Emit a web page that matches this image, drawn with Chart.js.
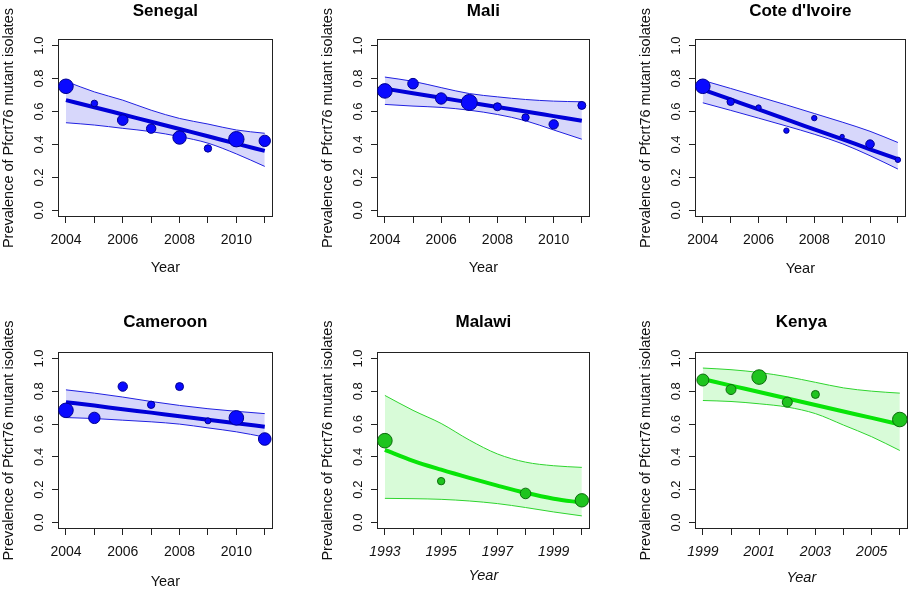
<!DOCTYPE html>
<html>
<head>
<meta charset="utf-8">
<title>Prevalence of Pfcrt76 mutant isolates</title>
<script src="https://cdn.jsdelivr.net/npm/chart.js@4.4.1/dist/chart.umd.min.js"></script>
<style>
  body { margin: 0; background: #fff; }
  #wrap { position: relative; width: 914px; height: 590px; overflow: hidden; }
  #wrap canvas { position: absolute; }
</style>
</head>
<body>
<div id="wrap">
  <canvas id="senegal" width="281" height="290" style="left:0px;top:0px"></canvas>
  <canvas id="mali" width="279" height="290" style="left:319px;top:0px"></canvas>
  <canvas id="cote" width="277" height="290" style="left:637px;top:0px"></canvas>
  <canvas id="cameroon" width="281" height="300" style="left:0px;top:295px"></canvas>
  <canvas id="malawi" width="279" height="300" style="left:319px;top:295px"></canvas>
  <canvas id="kenya" width="279" height="300" style="left:637px;top:295px"></canvas>
</div>
<script>
// years on the x axes
var westYears = [2004, 2005, 2006, 2007, 2008, 2009, 2010, 2011];
var westYearLabels = [2004, 2006, 2008, 2010];
var malawiYears = [1993, 1994, 1995, 1996, 1997, 1998, 1999, 2000];
var malawiYearLabels = [1993, 1995, 1997, 1999];
var malawiObsYears = [1993, 1995, 1998, 2000];
var kenyaYears = [1999, 2000, 2001, 2002, 2003, 2004, 2005, 2006];
var kenyaYearLabels = [1999, 2001, 2003, 2005];
var kenyaObsYears = [1999, 2000, 2001, 2002, 2003, 2006];
var yTicks = [0, 0.2, 0.4, 0.6, 0.8, 1.0];

// observed prevalence + relative sample size (marker size), fitted trend, 95% band
var senegalObs = [0.753, 0.649, 0.548, 0.496, 0.442, 0.376, 0.432, 0.422];
var senegalN   = [7.3, 3.3, 5.3, 4.7, 6.7, 3.7, 7.7, 5.7];
var senegalFit = [0.669, 0.626, 0.582, 0.538, 0.494, 0.450, 0.405, 0.361];
var senegalHi  = [0.783, 0.719, 0.669, 0.608, 0.558, 0.524, 0.488, 0.468];
var senegalLo  = [0.532, 0.518, 0.498, 0.478, 0.448, 0.408, 0.343, 0.267];

var maliObs = [0.725, 0.769, 0.679, 0.655, 0.629, 0.564, 0.522, 0.637];
var maliN   = [7.3, 5.3, 5.7, 8.0, 4.0, 3.7, 4.7, 4.0];
var maliFit = [0.739, 0.711, 0.683, 0.655, 0.627, 0.600, 0.572, 0.544];
var maliHi  = [0.809, 0.783, 0.745, 0.709, 0.689, 0.673, 0.663, 0.659];
var maliLo  = [0.643, 0.633, 0.625, 0.608, 0.582, 0.544, 0.488, 0.432];

var coteObs = [0.753, 0.659, 0.624, 0.484, 0.560, 0.448, 0.402, 0.307];
var coteN   = [7.3, 3.7, 2.7, 2.7, 2.7, 2.2, 4.3, 2.7];
var coteFit = [0.733, 0.673, 0.613, 0.552, 0.492, 0.432, 0.371, 0.311];
var coteHi  = [0.789, 0.740, 0.690, 0.640, 0.588, 0.536, 0.480, 0.412];
var coteLo  = [0.653, 0.607, 0.560, 0.512, 0.462, 0.405, 0.332, 0.251];

var cameroonObs = [0.684, 0.638, 0.829, 0.718, 0.829, 0.620, 0.638, 0.509];
var cameroonN   = [7.3, 5.7, 4.7, 3.7, 4.0, 3.0, 7.3, 6.3];
var cameroonFit = [0.734, 0.713, 0.691, 0.670, 0.648, 0.627, 0.605, 0.584];
var cameroonHi  = [0.809, 0.789, 0.765, 0.738, 0.714, 0.694, 0.678, 0.664];
var cameroonLo  = [0.640, 0.634, 0.624, 0.614, 0.600, 0.577, 0.553, 0.521];

var malawiObs = [0.499, 0.252, 0.177, 0.135];
var malawiN   = [7.3, 3.7, 5.3, 6.7];
var malawiFit = [0.443, 0.376, 0.322, 0.272, 0.225, 0.181, 0.145, 0.121];
var malawiHi  = [0.775, 0.684, 0.604, 0.503, 0.418, 0.368, 0.346, 0.336];
var malawiLo  = [0.147, 0.145, 0.141, 0.131, 0.115, 0.091, 0.064, 0.040];

var kenyaObs = [0.869, 0.811, 0.887, 0.734, 0.781, 0.628];
var kenyaN   = [6.0, 5.0, 7.3, 5.0, 4.0, 7.3];
var kenyaFit = [0.875, 0.835, 0.796, 0.756, 0.717, 0.677, 0.638, 0.598];
var kenyaHi  = [0.942, 0.932, 0.915, 0.889, 0.855, 0.821, 0.801, 0.789];
var kenyaLo  = [0.744, 0.738, 0.724, 0.704, 0.664, 0.594, 0.523, 0.439];

Chart.defaults.font.family = '"Liberation Sans", Arial, sans-serif';
Chart.defaults.color = '#111';
Chart.defaults.animation = false;

var BLUE = { pt: '#0a0aff', edge: '#00008f', fit: '#0000d8', band: '#2020e0', fill: 'rgba(40,40,235,0.19)' };
var GREEN = { pt: '#1ec41e', edge: '#0c6a0c', fit: '#08e408', band: '#2ed42e', fill: 'rgba(60,235,60,0.2)' };

// R style box round the plot region
var boxPlugin = {
  id: 'box',
  beforeDatasetsDraw: function (chart) {
    var a = chart.chartArea, ctx = chart.ctx;
    ctx.save();
    ctx.strokeStyle = '#222';
    ctx.lineWidth = 1;
    ctx.strokeRect(Math.round(a.left) + 0.5, Math.round(a.top) + 0.5,
      Math.round(a.right - a.left) - 1, Math.round(a.bottom - a.top) - 1);
    ctx.restore();
  }
};

function makePanel(id, p) {
  var topRow = p.row === 0;
  var H = topRow ? 290 : 300;
  var plotBottom = topRow ? 217 : 234;
  var c = p.green ? GREEN : BLUE;
  var fstyle = p.italic ? 'italic' : 'normal';

  function curve(arr) {
    return p.years.map(function (yr, i) { return { x: yr, y: arr[i] }; });
  }
  var pts = p.obsYears.map(function (yr, i) { return { x: yr, y: p.obs[i] }; });

  new Chart(document.getElementById(id), {
    type: 'line',
    data: {
      datasets: [
        { data: curve(p.hi), borderColor: c.band, borderWidth: 1, backgroundColor: c.fill,
          fill: 1, pointRadius: 0, order: 3, cubicInterpolationMode: 'monotone' },
        { data: curve(p.lo), borderColor: c.band, borderWidth: 1, fill: false,
          pointRadius: 0, order: 2, cubicInterpolationMode: 'monotone' },
        { data: curve(p.fit), borderColor: c.fit, borderWidth: 4, fill: false,
          pointRadius: 0, order: 1, cubicInterpolationMode: 'monotone' },
        { data: pts, showLine: false, fill: false, pointRadius: p.n, pointBackgroundColor: c.pt,
          pointBorderColor: c.edge, pointBorderWidth: 1, order: 0, clip: false }
      ]
    },
    options: {
      responsive: false,
      events: [],
      layout: { padding: { left: 0, right: 8, top: 0, bottom: 0 } },
      plugins: {
        legend: { display: false },
        tooltip: { enabled: false },
        title: {
          display: true, text: p.title, fullSize: false, color: '#000',
          font: { size: 17, weight: 'bold' },
          padding: topRow ? { top: 1, bottom: 17.6 } : { top: 16.8, bottom: 19.8 }
        }
      },
      scales: {
        x: {
          type: 'linear',
          min: p.years[0] - 0.28,
          max: p.years[p.years.length - 1] + 0.28,
          afterBuildTicks: function (s) { s.ticks = p.years.map(function (v) { return { value: v }; }); },
          afterFit: function (s) { s.height = H - plotBottom; },
          ticks: {
            autoSkip: false, maxRotation: 0, padding: 9, color: '#111',
            font: { size: 14, style: fstyle },
            callback: function (v) { return p.labels.indexOf(v) >= 0 ? String(v) : ''; }
          },
          grid: { drawOnChartArea: false, tickLength: 6, color: '#222' },
          border: { display: false },
          title: { display: true, text: 'Year', color: '#111', font: { size: 14.5, style: fstyle },
            padding: { top: 0, bottom: p.yearPad } }
        },
        y: {
          min: -0.04, max: 1.04,
          afterBuildTicks: function (s) { s.ticks = yTicks.map(function (v) { return { value: v }; }); },
          afterFit: function (s) { s.width = 58; },
          ticks: {
            autoSkip: false, minRotation: 90, maxRotation: 90, crossAlign: 'center', padding: 4,
            color: '#111', font: { size: 13 },
            callback: function (v) { return v.toFixed(1); }
          },
          grid: { drawOnChartArea: false, tickLength: 6, color: '#222' },
          border: { display: false },
          title: { display: true, text: 'Prevalence of Pfcrt76 mutant isolates', color: '#111',
            font: { size: 14.5 }, padding: { top: 0, bottom: 0 } }
        }
      }
    },
    plugins: [boxPlugin]
  });
}

makePanel('senegal', { row: 0, title: 'Senegal', years: westYears, labels: westYearLabels, obsYears: westYears,
  obs: senegalObs, n: senegalN, fit: senegalFit, hi: senegalHi, lo: senegalLo, yearPad: 13.3 });
makePanel('mali', { row: 0, title: 'Mali', years: westYears, labels: westYearLabels, obsYears: westYears,
  obs: maliObs, n: maliN, fit: maliFit, hi: maliHi, lo: maliLo, yearPad: 13.3 });
makePanel('cote', { row: 0, title: "Cote d'Ivoire", years: westYears, labels: westYearLabels, obsYears: westYears,
  obs: coteObs, n: coteN, fit: coteFit, hi: coteHi, lo: coteLo, yearPad: 12.5 });
makePanel('cameroon', { row: 1, title: 'Cameroon', years: westYears, labels: westYearLabels, obsYears: westYears,
  obs: cameroonObs, n: cameroonN, fit: cameroonFit, hi: cameroonHi, lo: cameroonLo, yearPad: 4.3 });
makePanel('malawi', { row: 1, title: 'Malawi', green: true, italic: true, years: malawiYears, labels: malawiYearLabels,
  obsYears: malawiObsYears, obs: malawiObs, n: malawiN, fit: malawiFit, hi: malawiHi, lo: malawiLo, yearPad: 10.3 });
makePanel('kenya', { row: 1, title: 'Kenya', green: true, italic: true, years: kenyaYears, labels: kenyaYearLabels,
  obsYears: kenyaObsYears, obs: kenyaObs, n: kenyaN, fit: kenyaFit, hi: kenyaHi, lo: kenyaLo, yearPad: 8.3 });
</script>
</body>
</html>
